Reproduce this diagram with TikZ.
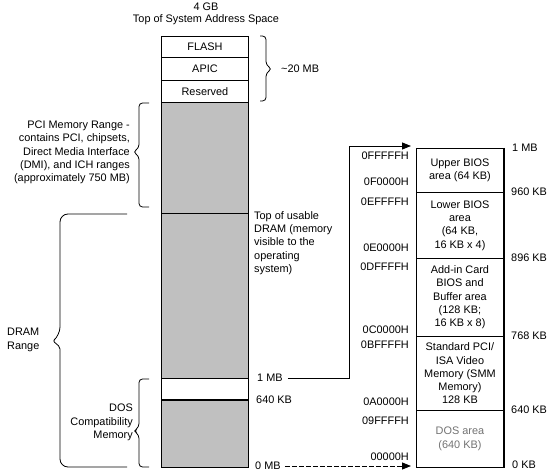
\documentclass[tikz,border=0pt]{standalone}
\usepackage{fontspec}
\setmainfont{Liberation Sans}
\usetikzlibrary{arrows.meta,calc}
\definecolor{memgray}{RGB}{192,192,192}
\begin{document}
\begin{tikzpicture}[x=1pt,y=-1pt,
  every node/.style={font=\fontsize{10.9}{13.3}\selectfont, inner sep=0pt},
  cell/.style={draw, line width=0.9pt, minimum width=87pt, anchor=north west, align=center},
  graycell/.style={cell, fill=memgray},
  lbl/.style={anchor=west},
  hexl/.style={anchor=east},
  brace/.style={line width=0.8pt, rounded corners=3.5pt},
  conn/.style={line width=0.9pt},
  tip/.style={-{Triangle[length=9pt,width=7pt]}}]
\useasboundingbox (0,0) rectangle (550,476);

% left column
\node[cell, minimum height=21pt] (flash) at (161,36) {FLASH};
\node[cell, minimum height=23pt] (apic) at (161,57) {APIC};
\node[cell, minimum height=22pt] (reserved) at (161,80) {Reserved};
\node[graycell, minimum height=111pt] (pci) at (161,102) {};
\node[graycell, minimum height=165pt] (dram) at (161,213) {};
\node[cell, minimum height=22pt] (dos) at (161,378) {};
\node[graycell, minimum height=67pt] (low) at (161,400) {};
\draw[line width=1.8pt] (low.north west) -- (low.north east);

% right column
\node[cell, minimum height=44pt] (upper) at (416,148) {Upper BIOS\\area (64 KB)};
\node[cell, minimum height=66pt] (lower) at (416,192) {Lower BIOS\\area\\(64 KB,\\16 KB x 4)};
\node[cell, minimum height=78pt] (addin) at (416,258) {Add-in Card\\BIOS and\\Buffer area\\(128 KB;\\16 KB x 8)};
\node[cell, minimum height=74pt] (svm) at (416,336) {Standard PCI/\\ISA Video\\Memory (SMM\\Memory)\\128 KB};
\node[cell, minimum height=57pt, text=black!55] (dosarea) at (416,410) {DOS area\\(640 KB)};
\draw[line width=1.6pt] (upper.north east) -- (dosarea.south east);

% top labels
\node (gb4) at (206,7) {4 GB};
\node (topsys) at (206,20) {Top of System Address Space};
\node[lbl] (mb20) at (281,69) {\textasciitilde 20 MB};

% left labels
\node[anchor=east, align=right] (pcitxt) at (130,152.5) {PCI Memory Range -\\contains PCI, chipsets,\\Direct Media Interface\\(DMI), and ICH ranges\\(approximately 750 MB)};
\node[anchor=west, align=left] (dramtxt) at (7,340) {DRAM\\Range};
\node[anchor=east, align=right] (dostxt) at (133,422.5) {DOS\\Compatibility\\Memory};

% labels right of left column
\node[anchor=west, align=left] (toptxt) at (254,243) {Top of usable\\DRAM (memory\\visible to the\\operating\\system)};
\node[lbl] (onemb) at (257,378) {1 MB};
\node[lbl] (kb640l) at (256,400) {640 KB};
\node[lbl] (zeromb) at (255,466) {0 MB};

% hex addresses
\node[hexl] (h1) at (409,156) {0FFFFFH};
\node[hexl] (h2) at (409,182) {0F0000H};
\node[hexl] (h3) at (409,202) {0EFFFFH};
\node[hexl] (h4) at (409,248) {0E0000H};
\node[hexl] (h5) at (409,267) {0DFFFFH};
\node[hexl] (h6) at (409,330) {0C0000H};
\node[hexl] (h7) at (409,345) {0BFFFFH};
\node[hexl] (h8) at (409,402) {0A0000H};
\node[hexl] (h9) at (409,421) {09FFFFH};
\node[hexl] (h10) at (409,457) {00000H};

% right-side sizes
\node[lbl] (r1) at (512,148) {1 MB};
\node[lbl] (r2) at (511,192) {960 KB};
\node[lbl] (r3) at (511,258) {896 KB};
\node[lbl] (r4) at (511,336) {768 KB};
\node[lbl] (r5) at (511,410) {640 KB};
\node[lbl] (r6) at (512,465) {0 KB};

% connectors
\coordinate (bend) at (349,146);
\draw[conn,tip] ([xshift=5pt]onemb.east) -| (bend) -- ([xshift=-5pt]upper.north west |- bend);
\draw[conn,tip,dash pattern=on 5pt off 2pt] ([xshift=4pt]zeromb.east) -- ([xshift=-5pt]dosarea.south west |- zeromb.east);

% braces
\draw[brace] (260,36) -- (266,36) -- (266,65) -- (272,69) -- (266,73) -- (266,101) -- (260,101);
\draw[brace] (149,103) -- (139,103) -- (139,148) -- (133,152) -- (139,156) -- (139,207) -- (149,207);
\draw[brace] (127,214) [rounded corners=8pt] -- (60,214) -- (60,335) [rounded corners=2pt] -- (53,341) -- (60,347) [rounded corners=8pt] -- (60,467) -- (127,467);
\draw[brace] (149,379) -- (139,379) -- (139,427) -- (134,431) -- (139,435) -- (139,467) -- (149,467);
\end{tikzpicture}
\end{document}
